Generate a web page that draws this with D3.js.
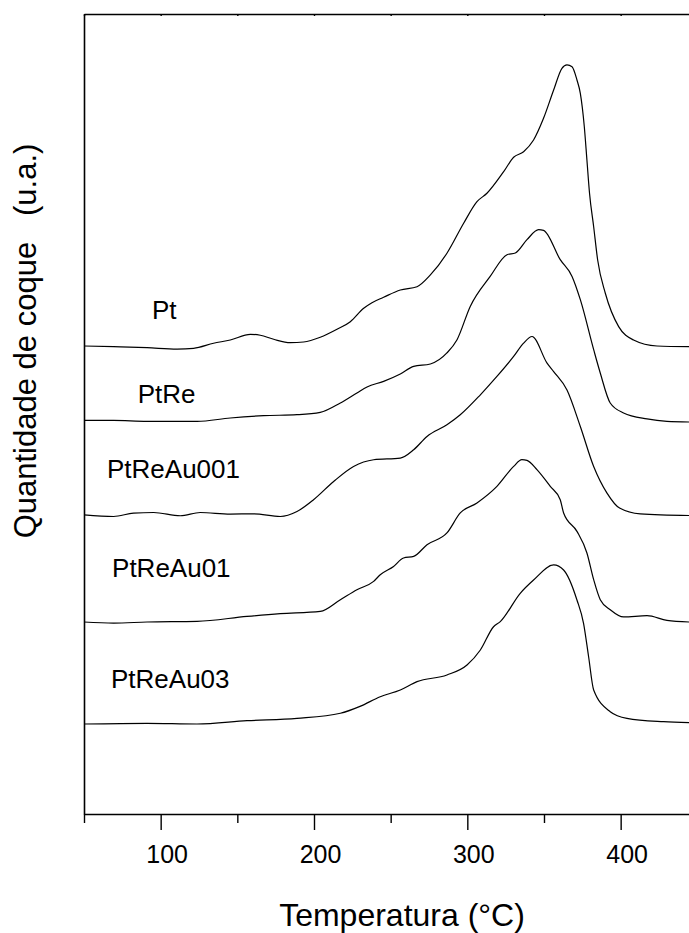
<!DOCTYPE html>
<html>
<head>
<meta charset="utf-8">
<script src="https://cdn.jsdelivr.net/npm/d3@7"></script>
<style>
  html, body { margin: 0; padding: 0; background: #fff; }
  svg { display: block; }
  text { font-family: "Liberation Sans", Arial, Helvetica, sans-serif; fill: #000; }
</style>
</head>
<body>
<svg id="chart" width="689" height="933"></svg>
<script>
// Temperature-programmed oxidation profiles of the coked catalysts (stacked, offset)
const samples = ["Pt", "PtRe", "PtReAu001", "PtReAu01", "PtReAu03"];
const offsets = [58.5, 49.2, 37.4, 24.0, 11.25];

const tempPt = [50, 69.3, 91.1, 110.7, 121.5, 134.5, 145.4, 158.5, 165.0, 173.7, 184.5, 193.2, 204.1, 215.0, 223.7, 232.4, 237.8, 245.4, 256.3, 267.2, 275.9, 286.7, 297.6, 306.3, 312.8, 323.7, 330.2, 336.7, 343.2, 349.7, 356.3, 361.7, 365.0, 368.3, 371.5, 373.7, 376.3, 378.0, 379.7, 382.4, 385.0, 390.0, 398.7, 408.4, 423.7, 445];
const coquePt = [0, -0.09, -0.21, -0.38, -0.29, 0.34, 0.75, 1.46, 1.34, 0.84, 0.41, 0.5, 1.09, 2.09, 3.04, 4.71, 5.41, 6.09, 7.0, 7.41, 8.88, 11.59, 15.34, 18.04, 19.09, 21.79, 23.59, 24.29, 25.75, 28.46, 32.0, 34.71, 35.15, 34.91, 33.25, 31.59, 27.41, 23.25, 19.09, 14.91, 10.75, 6.59, 2.42, 0.75, 0, -0.09];

const tempPtRe = [50, 69.3, 91.1, 123.7, 145.4, 167.1, 188.9, 204.1, 217.2, 228.0, 234.6, 245.4, 256.3, 265.0, 275.9, 286.7, 293.3, 301.9, 314.9, 325.9, 331.3, 338.9, 346.5, 349.7, 360.6, 368.3, 373.7, 382.4, 386.7, 393.2, 401.9, 417.2, 430.2, 445];
const coquePtRe = [0, 0, -0.12, -0.12, 0.3, 0.59, 0.71, 1.0, 2.18, 3.43, 4.18, 4.88, 5.8, 6.75, 7.05, 8.43, 10.09, 14.25, 18.0, 20.71, 20.93, 22.59, 23.84, 23.75, 20.09, 18.0, 15.09, 8.84, 5.93, 2.18, 0.93, 0.18, -0.12, -0.2];

const tempPtReAu001 = [50, 69.3, 82.3, 95.4, 112.8, 125.8, 145.4, 160.6, 178.0, 188.9, 199.7, 212.8, 225.8, 238.9, 256.3, 265.0, 273.7, 286.7, 295.4, 308.5, 319.3, 330.2, 336.7, 342.2, 352.0, 356.3, 365.0, 373.7, 382.4, 391.1, 399.3, 412.8, 445];
const coquePtReAu001 = [0, -0.21, 0.21, 0.29, -0.12, 0.29, 0.09, 0.12, -0.21, 0.41, 1.88, 4.16, 6.04, 6.88, 7.09, 8.13, 9.79, 11.25, 12.5, 15.0, 17.29, 19.79, 21.46, 22.29, 18.96, 17.9, 15.6, 11.04, 6.04, 2.71, 0.84, 0.12, -0.09];

const tempPtReAu01 = [50, 69.3, 91.1, 123.7, 156.3, 178.0, 204.1, 217.2, 228.0, 238.9, 243.2, 251.9, 258.4, 265.0, 273.7, 286.7, 295.4, 306.3, 319.3, 330.2, 335.6, 338.9, 345.4, 354.1, 360.6, 362.8, 371.5, 378.0, 382.4, 386.7, 393.2, 401.9, 417.2, 430.2, 445];
const coquePtReAu01 = [0, -0.13, 0, 0.08, 0.7, 1.04, 1.33, 2.79, 4.04, 5.08, 5.91, 6.95, 8.0, 8.2, 9.66, 11.13, 13.63, 14.88, 16.95, 19.45, 20.29, 20.2, 19.04, 16.95, 15.29, 13.63, 11.33, 8.63, 5.29, 2.79, 1.54, 0.63, 0.79, 0.2, 0];

const tempPtReAu03 = [50, 91.1, 123.7, 156.3, 188.9, 217.2, 230.0, 243.2, 256.3, 267.2, 286.7, 299.8, 308.5, 317.1, 321.5, 334.5, 343.2, 356.3, 362.8, 371.5, 375.8, 379.1, 382.4, 393.2, 404.1, 428.0, 445];
const coquePtReAu03 = [0, 0.09, 0, 0.41, 0.71, 1.34, 2.2, 3.41, 4.25, 5.29, 6.13, 7.38, 9.25, 12.16, 12.79, 16.34, 18.0, 19.88, 19.25, 15.5, 12.59, 8.41, 4.25, 1.54, 0.71, 0.29, 0.16];

// label anchors in data coordinates (temperature, stacked intensity)
const labelTemp = [94.3, 85.0, 65.0, 68.3, 67.6];
const labelValue = [61.84, 51.41, 41.96, 29.66, 15.71];

const xMajorTicks = [100, 200, 300, 400];
const xMinorTicks = [50, 150, 250, 350, 450];

const temps = [tempPt, tempPtRe, tempPtReAu001, tempPtReAu01, tempPtReAu03];
const coques = [coquePt, coquePtRe, coquePtReAu001, coquePtReAu01, coquePtReAu03];

const svg = d3.select("#chart");
const plotLeft = 84, plotTop = 14, plotBottom = 814;

const x = d3.scaleLinear().domain([50, 450]).range([plotLeft, plotLeft + 400 * 1.5333]);
const y = d3.scaleLinear().domain([0, 100]).range([plotBottom, plotTop]);

// curves
const line = d3.line()
  .x(d => x(d[0]))
  .y(d => y(d[1]))
  .curve(d3.curveMonotoneX);

samples.forEach((name, i) => {
  const pts = temps[i].map((t, j) => [t, offsets[i] + coques[i][j]]);
  svg.append("path")
    .datum(pts)
    .attr("fill", "none")
    .attr("stroke", "#000")
    .attr("stroke-width", 1.2)
    .attr("stroke-linejoin", "round")
    .attr("d", line);
  svg.append("text")
    .attr("x", x(labelTemp[i]))
    .attr("y", y(labelValue[i]))
    .attr("font-size", 26)
    .text(name);
});

// bottom axis: major ticks with labels
const axB = svg.append("g")
  .attr("transform", `translate(0,${plotBottom})`)
  .call(d3.axisBottom(x).tickValues(xMajorTicks).tickSize(16).tickSizeOuter(0).tickPadding(15));
axB.selectAll("text").attr("font-size", 25).attr("dx", 6);
axB.attr("font-family", null).attr("font-size", null);
// bottom axis: minor ticks
const axBm = svg.append("g")
  .attr("transform", `translate(0,${plotBottom})`)
  .call(d3.axisBottom(x).tickValues(xMinorTicks).tickSize(9).tickSizeOuter(0).tickFormat(""));
axBm.select(".domain").remove();

// top axis: small inward ticks
svg.append("g")
  .attr("transform", `translate(0,${plotTop})`)
  .call(d3.axisBottom(x).tickValues(xMajorTicks.concat(xMinorTicks)).tickSize(2).tickSizeOuter(0).tickFormat(""));

// left axis line
svg.append("g")
  .attr("transform", `translate(${plotLeft},0)`)
  .call(d3.axisLeft(y).tickValues([]).tickSizeOuter(0));

svg.selectAll(".domain").attr("stroke", "#000").attr("stroke-width", 1.6);
svg.selectAll(".tick line").attr("stroke", "#000").attr("stroke-width", 1.4);

// axis titles
svg.append("text")
  .attr("x", 402)
  .attr("y", 926)
  .attr("text-anchor", "middle")
  .attr("font-size", 32)
  .text("Temperatura (°C)");

svg.append("text")
  .attr("transform", "translate(36,341) rotate(-90)")
  .attr("text-anchor", "middle")
  .attr("font-size", 31)
  .style("white-space", "pre")
  .text("Quantidade de coque   (u.a.)");
</script>
</body>
</html>
